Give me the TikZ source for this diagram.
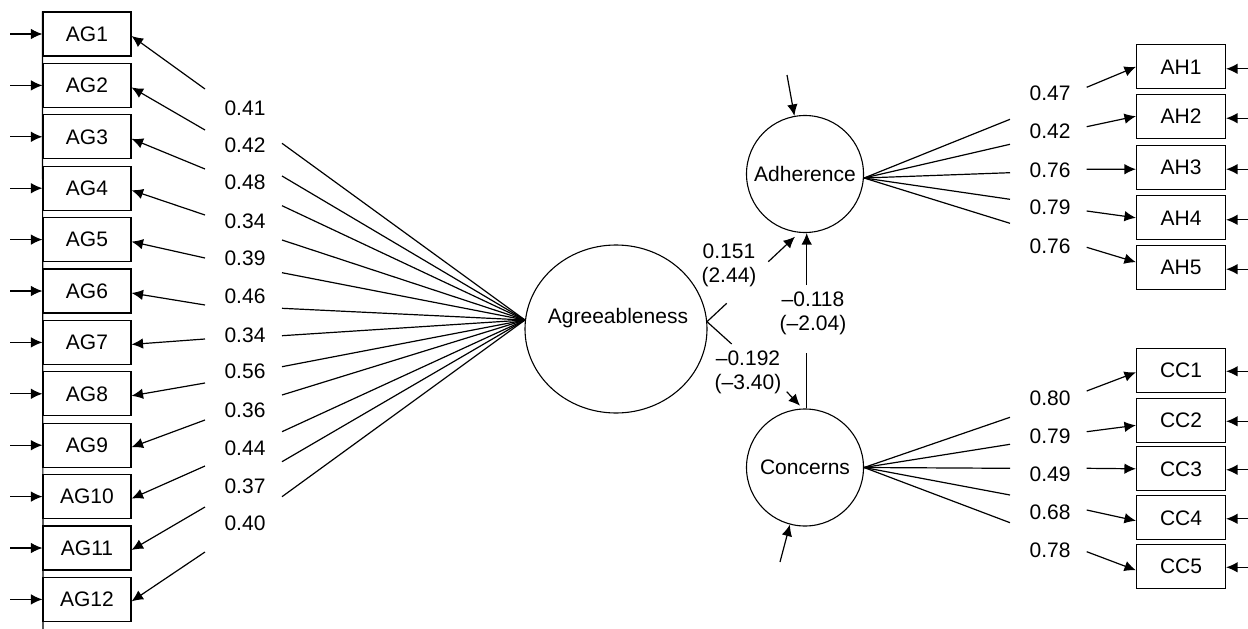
\documentclass[tikz,border=0pt]{standalone}
\usepackage{fontspec}
\setmainfont{Liberation Sans}
\usetikzlibrary{arrows.meta,shapes.geometric}
\begin{document}
\begin{tikzpicture}[x=1pt,y=-1pt,
  every node/.style={font=\fontsize{21}{24}\selectfont},
  ind/.style={draw,line width=1.1pt,minimum width=88pt,minimum height=44pt,inner sep=0pt},
  lat/.style={draw,circle,line width=1.1pt,minimum size=117pt,inner sep=0pt},
  ln/.style={line width=1.2pt},
  arr/.style={ln,-{Latex[length=11.5pt,width=10.5pt]}},
  lab/.style={inner sep=0pt,align=center}
]
\useasboundingbox[fill=white] (0,0) rectangle (1248,629);

% latent variables
\node[draw,ellipse,line width=1.1pt,minimum width=182pt,minimum height=168pt,inner sep=0pt] (agr) at (616,329) {};
\node[lab] (agrt) at (618,318) {Agreeableness};
\node[lat] (adh) at (805,174) {Adherence};
\node[lat] (con) at (805,467.5) {Concerns};

% AG indicators
\foreach \i in {1,...,12}{
  \node[ind] (ag\i) at (87,{34+51.4*(\i-1)}) {AG\i};
  \coordinate (eg\i) at (10,{34+51.4*(\i-1)});
  \draw[arr] (eg\i) -- (ag\i.west);
}
\coordinate (vbot) at (43,629);
\draw[ln] (ag1.north west) -- (vbot);

\coordinate (agin) at (525,320);
\foreach \i/\ra/\lb/\ly/\vv in {
1/143.3/89/108/0.41,
2/176/130/145/0.42,
3/205.7/169/182.7/0.48,
4/240/215/221.7/0.34,
5/272.7/258/258/0.39,
6/308.3/305/296.7/0.46,
7/335.7/339/335/0.34,
8/366.7/383/371.7/0.56,
9/395/420/410/0.36,
10/431.7/466/448.3/0.44,
11/461.7/507/486.7/0.37,
12/496.7/552/523.3/0.40}{
  \node[lab] (l\i) at (245,\ly) {\vv};
  \coordinate (r\i) at (282,\ra);
  \coordinate (s\i) at (205,\lb);
  \draw[ln] (agin) -- (r\i);
  \draw[arr] (s\i) -- ([yshift=-2pt]ag\i.east);
}

% AH indicators
\foreach \i/\y/\ly/\vv/\sy/\dd in {
1/66.8/93.3/0.47/87.3/0,
2/116.2/131.7/0.42/126.7/0,
3/167.2/170/0.76/169.3/-2,
4/217.8/207.7/0.79/211/0,
5/267.2/246/0.76/247.3/5}{
  \node[ind,minimum width=89pt] (ah\i) at (1181,\y) {AH\i};
  \node[lab] (ahl\i) at (1050,\ly) {\vv};
  \coordinate (ahs\i) at (1086.7,\sy);
  \draw[arr] (ahs\i) -- ([yshift=\dd pt]ah\i.west);
  \coordinate (ahe\i) at (1248,{\y+2});
  \draw[arr] (ahe\i) -- ([yshift=-2pt]ah\i.east);
}
\foreach \i/\y in {1/119.3,2/144.3,3/172.7,4/199.3,5/223.3}{
  \coordinate (ahr\i) at (1010,\y);
  \draw[ln] ([yshift=-4pt]adh.east) -- (ahr\i);
}

% CC indicators
\foreach \i/\y/\ly/\vv/\sy/\dd in {
1/370.3/398.3/0.80/391/-2,
2/420.3/436/0.79/431.7/-5,
3/468.8/474/0.49/468.3/0,
4/517.8/512.3/0.68/510/-3,
5/566.3/550/0.78/551.7/-4}{
  \node[ind,minimum width=89pt] (cc\i) at (1181,\y) {CC\i};
  \node[lab] (ccl\i) at (1050,\ly) {\vv};
  \coordinate (ccs\i) at (1086.7,\sy);
  \draw[arr] (ccs\i) -- ([yshift=\dd pt]cc\i.west);
  \coordinate (cce\i) at (1248,{\y+1});
  \draw[arr] (cce\i) -- ([yshift=-1pt]cc\i.east);
}
\foreach \i/\y in {1/417.3,2/444.3,3/468.3,4/495,5/522.7}{
  \coordinate (ccr\i) at (1010,\y);
  \draw[ln] (con.east) -- (ccr\i);
}

% disturbances
\coordinate (dadh) at (787,75);
\draw[arr] (dadh) -- (adh);
\coordinate (dcon) at (780,562);
\draw[arr] (dcon) -- (con);

% structural paths
\coordinate (agout) at (707,321.7);
\node[lab] (p1) at (729,265) {0.151\\(2.44)};
\coordinate (p1a) at (726.7,303.3);
\coordinate (p1b) at (768.3,261.7);
\coordinate (p1t) at (795,236.7);
\draw[ln] (agout) -- (p1a);
\draw[arr] (p1b) -- (p1t);

\node[lab] (p2) at (748,372) {--0.192\\(--3.40)};
\coordinate (p2a) at (731.7,344);
\coordinate (p2b) at (786.7,391.7);
\coordinate (p2t) at (800,405.7);
\draw[ln] (agout) -- (p2a);
\draw[arr] (p2b) -- (p2t);

\node[lab] (p3) at (813,313) {--0.118\\(--2.04)};
\coordinate (p3a) at (806.7,285);
\coordinate (p3b) at (806.7,353);
\draw[arr] (p3a) -- (adh.south -| p3a);
\draw[ln] (p3b) -- (con.north -| p3b);
\end{tikzpicture}
\end{document}
